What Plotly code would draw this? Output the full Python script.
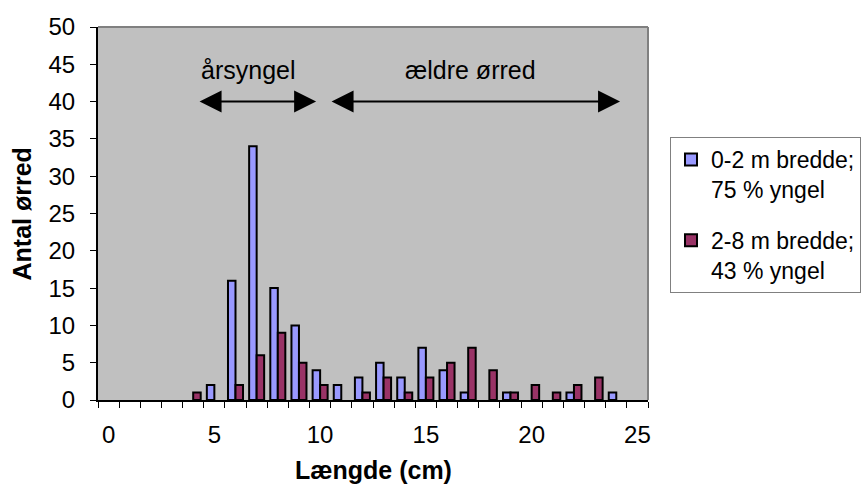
import plotly.graph_objects as go

lengths = list(range(0, 25))
blue_vals = [0, 0, 0, 0, 0, 2, 16, 34, 15, 10, 4, 2, 3, 5, 3, 7, 4, 1, 0, 1, 0, 0, 1, 0, 1]
red_vals = [0, 0, 0, 0, 1, 0, 2, 6, 9, 5, 2, 0, 1, 3, 1, 3, 5, 7, 4, 1, 2, 1, 2, 3, 0]
blue_name = "0-2 m bredde;<br>75 % yngel"
red_name = "2-8 m bredde;<br>43 % yngel"
x_ticks = [0, 5, 10, 15, 20, 25]
y_ticks = [0, 5, 10, 15, 20, 25, 30, 35, 40, 45, 50]

FONT = "Liberation Sans, Arial, sans-serif"
FS_TICK = 24
FS = 25
FS_LEG = 23


def nz(vals):
    return [v if v else None for v in vals]


fig = go.Figure()
fig.add_trace(go.Bar(x=lengths, y=nz(blue_vals), name=blue_name, legendgroup="a",
                     marker=dict(color="#9999FF", line=dict(color="black", width=2))))
fig.add_trace(go.Bar(x=lengths, y=nz(red_vals), name=red_name, legendgroup="b",
                     marker=dict(color="#993366", line=dict(color="black", width=2))))
# carrier for the label axis
fig.add_trace(go.Scatter(x=[0, 25], y=[None, None], xaxis="x2", mode="markers",
                         showlegend=False, hoverinfo="skip"))

boundaries = [i - 0.5 for i in range(0, 27)]

fig.update_layout(
    width=864, height=495,
    margin=dict(l=98, r=216, t=27, b=95, autoexpand=False),
    paper_bgcolor="white", plot_bgcolor="#C0C0C0",
    barmode="group", bargap=0.29, bargroupgap=0,
    font=dict(family=FONT, size=FS_TICK, color="black"),
    showlegend=True,
    legend=dict(x=1.04, y=0.705, xanchor="left", yanchor="top",
                bgcolor="white", bordercolor="#808080", borderwidth=1,
                font=dict(size=FS_LEG), valign="top", tracegroupgap=18,
                traceorder="grouped", itemwidth=30),
    xaxis=dict(range=[-0.5, 25.5], tickmode="array", tickvals=boundaries,
               ticktext=["" for _ in boundaries], showticklabels=False,
               ticks="outside", ticklen=6, tickcolor="black", tickwidth=1,
               showgrid=False, zeroline=False,
               showline=True, linecolor="black", linewidth=2),
    xaxis2=dict(range=[-0.5, 25.5], overlaying="x", side="bottom", anchor="y",
                tickmode="array", tickvals=x_ticks,
                ticktext=[str(v) for v in x_ticks],
                ticks="", showgrid=False, zeroline=False, showline=False,
                ticklabelstandoff=18),
    yaxis=dict(range=[0, 50], tickmode="array", tickvals=y_ticks,
               ticks="outside", ticklen=6, tickcolor="black",
               showgrid=False, zeroline=False,
               showline=True, linecolor="black", linewidth=2,
               ticklabelstandoff=10),
)

# gray plot-area border on top and right
fig.add_shape(type="line", xref="paper", yref="paper", x0=0, x1=1, y0=1, y1=1,
              line=dict(color="#808080", width=2), layer="above")
fig.add_shape(type="line", xref="paper", yref="paper", x0=1, x1=1, y0=0, y1=1,
              line=dict(color="#808080", width=2), layer="above")

# double-headed arrows
for x0, x1 in [(4.23, 9.81), (10.47, 24.18)]:
    fig.add_annotation(x=x1, y=40, ax=x0, ay=40, xref="x", yref="y", axref="x", ayref="y",
                       text="", showarrow=True, arrowhead=2, arrowside="end+start",
                       arrowwidth=2, arrowsize=2.2, arrowcolor="black")

fig.add_annotation(x=6.6, y=44.3, xref="x", yref="y", text="årsyngel", showarrow=False,
                   font=dict(size=FS))
fig.add_annotation(x=17.1, y=44.3, xref="x", yref="y", text="ældre ørred", showarrow=False,
                   font=dict(size=FS))

fig.add_annotation(x=-0.14, y=0.5, xref="paper", yref="paper", text="<b>Antal ørred</b>",
                   textangle=-90, showarrow=False, xanchor="center", yanchor="middle",
                   font=dict(size=FS))
fig.add_annotation(x=0.5, y=-0.188, xref="paper", yref="paper", text="<b>Længde (cm)</b>",
                   showarrow=False, xanchor="center", yanchor="middle", font=dict(size=FS))

fig.write_html("out.html")
